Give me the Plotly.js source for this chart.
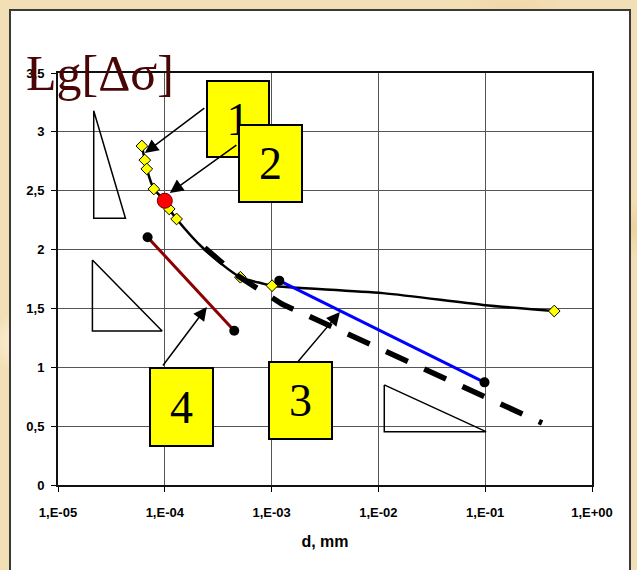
<!DOCTYPE html>
<html>
<head>
<meta charset="utf-8">
<script src="https://cdn.plot.ly/plotly-3.0.1.min.js"></script>
<style>
  html, body { margin:0; padding:0; }
  body {
    width:637px; height:570px; overflow:hidden; position:relative;
    background-color:#f3dfb6;
    background-image:
      radial-gradient(circle at 20% 10%, rgba(255,248,230,0.7) 0, rgba(255,248,230,0) 40px),
      radial-gradient(circle at 80% 5%, rgba(236,206,150,0.6) 0, rgba(236,206,150,0) 60px),
      radial-gradient(circle at 3% 60%, rgba(255,245,225,0.8) 0, rgba(255,245,225,0) 30px),
      radial-gradient(circle at 99% 40%, rgba(232,200,140,0.6) 0, rgba(232,200,140,0) 30px);
  }
  #panel { position:absolute; left:9px; top:9px; width:618px; height:620px;
           background:#fff; border:2px solid #3a3a3a; }
  #chart { position:absolute; left:0; top:0; width:637px; height:570px; }
</style>
</head>
<body>
<div id="panel"></div>
<div id="chart"></div>
<script>
// ---- data (d in mm, Lg[Δσ]) ----
// curve 1/2 (black solid line)
const curveD = [6.1e-5, 6.5e-5, 6.78e-5, 7.9e-5, 1.0e-4, 1.1e-4, 1.29e-4, 2.29e-4, 5.1e-4, 8.05e-4, 1.01e-3, 1.1e-2, 9.55e-2, 0.443];
const curveY = [2.88, 2.76, 2.685, 2.515, 2.415, 2.345, 2.26, 2.011, 1.765, 1.714, 1.693, 1.63, 1.53, 1.478];
// yellow diamond points
const diamondD = [6.1e-5, 6.5e-5, 6.78e-5, 7.9e-5, 1.1e-4, 1.29e-4, 5.1e-4, 1.01e-3, 0.443];
const diamondY = [2.88, 2.76, 2.685, 2.515, 2.345, 2.26, 1.765, 1.693, 1.478];
// red point
const redD = [1.0e-4];
const redY = [2.415];
// line 3 (blue)
const line3D = [1.18e-3, 0.0985];
const line3Y = [1.736, 0.872];
// line 4 (dark red)
const line4D = [6.9e-5, 4.47e-4];
const line4Y = [2.105, 1.311];
// dashed line
const dashD = [2.37e-4, 4.70e-4, 7.76e-4, 1.25e-3, 0.341];
const dashY = [2.014, 1.784, 1.657, 1.538, 0.527];
// slope triangles (vertices, closed)
const tri1D = [2.16e-5, 2.16e-5, 4.28e-5, 2.16e-5];
const tri1Y = [3.18, 2.266, 2.266, 3.18];
const tri2D = [2.10e-5, 2.10e-5, 9.44e-5, 2.10e-5];
const tri2Y = [1.912, 1.308, 1.308, 1.912];
const tri3D = [0.01135, 0.01135, 0.1018, 0.01135];
const tri3Y = [0.850, 0.453, 0.453, 0.850];
// axis ticks
const xTickVals = [1e-5, 1e-4, 1e-3, 1e-2, 1e-1, 1];
const xTickText = ['1,E-05', '1,E-04', '1,E-03', '1,E-02', '1,E-01', '1,E+00'];
const yTickVals = [0, 0.5, 1, 1.5, 2, 2.5, 3, 3.5];
const yTickText = ['0', '0,5', '1', '1,5', '2', '2,5', '3', '3,5'];
// labels
const boxLabels = ['1', '2', '4', '3'];
// arrows: head and tail in (log10 d, Lg)
const arrowHeadX = [-4.187, -3.953, -3.606, -2.360];
const arrowHeadY = [2.821, 2.481, 1.512, 1.470];
const arrowTailX = [-3.616, -3.316, -4.028, -2.772];
const arrowTailY = [3.212, 2.897, 1.003, 1.028];

// ---- layout helpers ----
const W = 637, H = 570;
const M = {l:58, r:45, t:73, b:85};
const PW = W - M.l - M.r, PH = H - M.t - M.b;
const px = x => (x - M.l) / PW;
const py = y => (H - M.b - y) / PH;

const traces = [
  {x: tri1D, y: tri1Y, mode:'lines', line:{color:'#000', width:1.5}, hoverinfo:'skip'},
  {x: tri2D, y: tri2Y, mode:'lines', line:{color:'#000', width:1.5}, hoverinfo:'skip'},
  {x: tri3D, y: tri3Y, mode:'lines', line:{color:'#000', width:1.5}, hoverinfo:'skip'},
  {x: line4D, y: line4Y, mode:'lines+markers', line:{color:'#8B0000', width:3},
   marker:{color:'#000', size:10}},
  {x: curveD, y: curveY, mode:'lines', line:{color:'#000', width:2.5, shape:'spline', smoothing:0.8}},
  {x: diamondD, y: diamondY, mode:'markers',
   marker:{symbol:'diamond', color:'#ffff00', size:9, line:{color:'#000', width:1}}},
  {x: line3D, y: line3Y, mode:'lines+markers', line:{color:'#0000ff', width:3},
   marker:{color:'#000', size:10}},
  {x: redD, y: redY, mode:'markers', marker:{color:'#ff0000', size:15, line:{color:'#600', width:1}}},
  {x: dashD, y: dashY, mode:'lines', line:{color:'#000', width:5.5, dash:'24px,18px'}}
];

// label boxes: centre pixel positions & sizes
const boxes = [
  {cx:238, cy:119, w:60, h:74},
  {cx:270.5, cy:163.5, w:61, h:75},
  {cx:181.5, cy:407, w:61, h:76},
  {cx:300.5, cy:400.5, w:61, h:75}
];
const annotations = [];
boxes.forEach((b, i) => {
  annotations.push({
    xref:'paper', yref:'paper', x:px(b.cx), y:py(b.cy), xanchor:'center', yanchor:'middle',
    text: boxLabels[i], showarrow:false, width:b.w, height:b.h, align:'center', valign:'middle',
    bgcolor:'#ffff00', bordercolor:'#000', borderwidth:2, borderpad:0,
    font:{family:'Liberation Serif, Times New Roman, serif', size:46, color:'#000'}
  });
});
for (let i = 0; i < arrowHeadX.length; i++) {
  annotations.push({
    xref:'x', yref:'y', axref:'x', ayref:'y',
    x: arrowHeadX[i], y: arrowHeadY[i], ax: arrowTailX[i], ay: arrowTailY[i],
    text:'', showarrow:true, arrowhead:2, arrowsize:1.8, arrowwidth:1.5, arrowcolor:'#000', standoff:0
  });
}
// Y title
annotations.push({
  xref:'paper', yref:'paper', x:px(24), y:py(73), xanchor:'left', yanchor:'middle',
  text:'Lg[Δσ]', showarrow:false,
  font:{family:'Liberation Serif, Times New Roman, serif', size:50, color:'#4a0606'}
});

const axisFont = {family:'Liberation Sans, Arial, sans-serif', size:13, color:'#000', weight:'bold'};
const layout = {
  width: W, height: H, autosize:false,
  margin: {l:M.l, r:M.r, t:M.t, b:M.b, pad:0},
  paper_bgcolor:'rgba(0,0,0,0)', plot_bgcolor:'#fff',
  showlegend:false,
  xaxis: {
    type:'log', range:[-5, 0], tickvals:xTickVals, ticktext:xTickText,
    showgrid:true, gridcolor:'#555', gridwidth:1, zeroline:false,
    showline:true, linecolor:'#111', linewidth:2, mirror:true,
    ticks:'outside', ticklen:5, tickcolor:'#000', tickwidth:1,
    tickfont: axisFont, ticklabelstandoff:9,
    title:{text:'d, mm', font:{family:'Liberation Sans, Arial, sans-serif', size:16, color:'#000', weight:'bold'}, standoff:17}
  },
  yaxis: {
    range:[0, 3.5], tickvals:yTickVals, ticktext:yTickText,
    showgrid:true, gridcolor:'#555', gridwidth:1, zeroline:false,
    showline:true, linecolor:'#111', linewidth:2, mirror:true,
    ticks:'outside', ticklen:5, tickcolor:'#000', tickwidth:1,
    tickfont: axisFont, ticklabelstandoff:4
  },
  annotations: annotations
};

Plotly.newPlot('chart', traces, layout, {staticPlot:true, displayModeBar:false});
</script>
</body>
</html>
